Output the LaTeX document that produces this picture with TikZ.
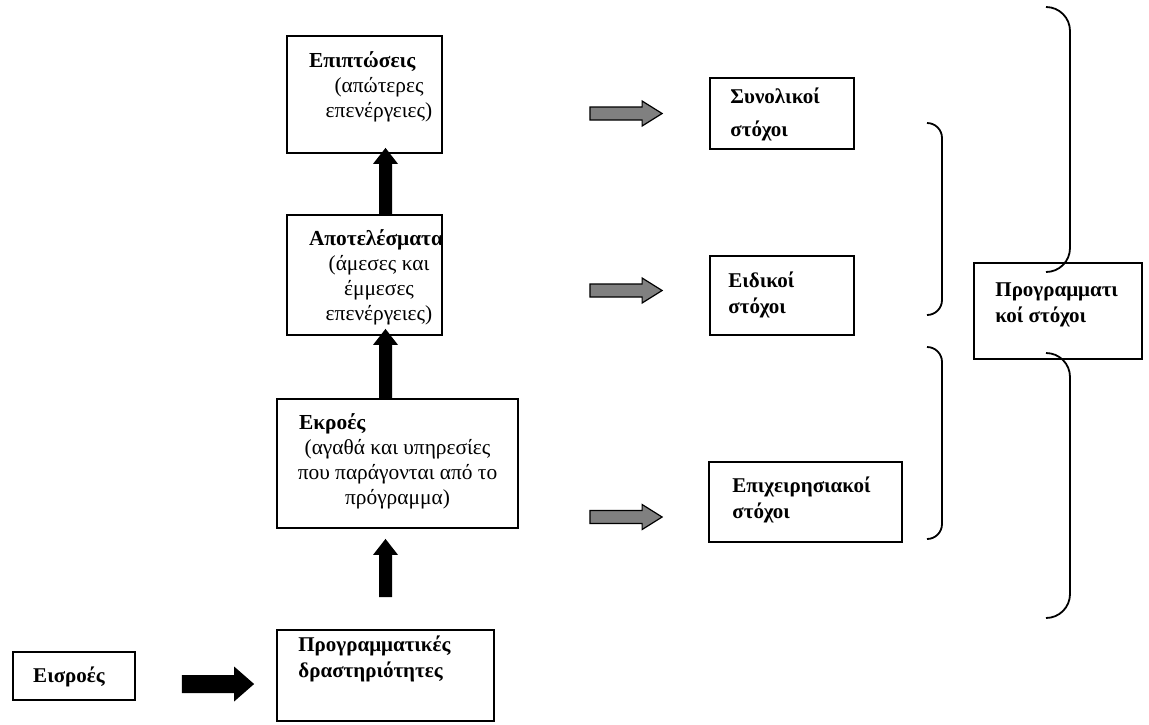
\documentclass[tikz,border=0pt]{standalone}
\usepackage{fontspec}
\setmainfont{Liberation Serif}
\usetikzlibrary{calc}
\definecolor{arrowgray}{RGB}{128,128,128}

\begin{document}
\begin{tikzpicture}
  [
    x=0.5pt, y=-0.5pt,
    font=\fontsize{10.7pt}{12.5pt}\selectfont,
    box/.style =
      {draw, rectangle, line width=0.9pt, inner sep=0pt},
    txt/.style =
      {inner sep=0pt, align=center},
    head/.style =
      {inner sep=0pt, align=left, font=\fontsize{10.5pt}{13pt}\selectfont\bfseries},
    uarrow/.style n args = {3}{to path={($(\tikztostart)+(-#1,0)$)
        -- ($(\tikztotarget)+(-#1,#3)$)
        -- ($(\tikztotarget)+(-#2,#3)$) -- (\tikztotarget)
        -- ($(\tikztotarget)+(#2,#3)$) -- ($(\tikztotarget)+(#1,#3)$)
        -- ($(\tikztostart)+(#1,0)$) -- cycle}},
    rarrow/.style n args = {3}{to path={($(\tikztostart)+(0,-#1)$)
        -- ($(\tikztotarget)+(-#3,-#1)$)
        -- ($(\tikztotarget)+(-#3,-#2)$) -- (\tikztotarget)
        -- ($(\tikztotarget)+(-#3,#2)$) -- ($(\tikztotarget)+(-#3,#1)$)
        -- ($(\tikztostart)+(0,#1)$) -- cycle}},
    varrow/.style =
      {uarrow={6.5}{12.5}{16}, fill=black},
    barrow/.style =
      {rarrow={9}{17.5}{20}, fill=black},
    garrow/.style =
      {rarrow={6.5}{12.5}{20}, draw, line width=0.6pt, fill=arrowgray},
    brace/.style =
      {line width=0.9pt, rounded corners=#1}
  ]

\useasboundingbox (0,0) rectangle (1149,724);

% left column
\node[box, minimum width=77.5pt, minimum height=58.5pt] (epipt) at (364.5,94.5) {};
\node[box, minimum width=77.5pt, minimum height=60pt] (apotel) at (364.5,275) {};
\node[box, minimum width=120.5pt, minimum height=64.5pt] (ekroes) at (397.5,463.5) {};
\node[box, minimum width=108.5pt, minimum height=45.5pt] (drast) at (385.5,675.5) {};
\node[box, minimum width=61pt, minimum height=24pt] (eisr) at (74,676) {};

\node[txt] (epipt-t) at (379,87)
  {\makebox[70pt][l]{\bfseries Επιπτώσεις}\\(απώτερες\\επενέργειες)};
\node[txt] (apotel-t) at (379,277.5)
  {\makebox[70pt][l]{\bfseries Αποτελέσματα}\\(άμεσες και\\έμμεσες\\επενέργειες)};
\node[txt] (ekroes-t) at (397.5,461.5)
  {\makebox[98.5pt][l]{\bfseries Εκροές}\\(αγαθά και υπηρεσίες\\που παράγονται από το\\πρόγραμμα)};
\node[head, anchor=west] (drast-t) at (298,659) {Προγραμματικές\\δραστηριότητες};
\node[head] (eisr-t) at (69,677) {Εισροές};

% goals
\node[box, minimum width=72pt, minimum height=35.5pt] (synol) at (782,113.5) {};
\node[box, minimum width=72pt, minimum height=39.5pt] (eidik) at (782,295.5) {};
\node[box, minimum width=96.5pt, minimum height=40pt] (epixeir) at (805.5,502) {};
\node[box, minimum width=84pt, minimum height=48pt] (progst) at (1058,311) {};

\node[head, anchor=west] (synol-t) at (730,114) {Συνολικοί\\[3.5pt]στόχοι};
\node[head, anchor=west] (eidik-t) at (728,295) {Ειδικοί\\στόχοι};
\node[head, anchor=west] (epixeir-t) at (732,500) {Επιχειρησιακοί\\στόχοι};
\node[head, anchor=west] (progst-t) at (995,304.5) {Προγραμματι\\κοί στόχοι};

% arrow ends
\coordinate (v1s) at (apotel.north -| drast);
\coordinate (v1e) at ($(epipt.south -| drast)+(0,-6)$);
\coordinate (v2s) at (ekroes.north -| drast);
\coordinate (v2e) at ($(apotel.south -| drast)+(0,-7)$);
\coordinate (v3s) at ($(drast.north)+(0,-32)$);
\coordinate (v3e) at ($(ekroes.south -| drast)+(0,10)$);
\coordinate (hs) at ($(eisr.east)+(46,8)$);
\coordinate (he) at ($(drast.west |- eisr.east)+(-22,8)$);
\coordinate (g1s) at ($(epipt.east |- synol.west)+(147,0)$);
\coordinate (g1e) at ($(synol.west)+(-47,0)$);
\coordinate (g2s) at ($(apotel.east |- eidik.west)+(147,-5)$);
\coordinate (g2e) at ($(eidik.west)+(-47,-5)$);
\coordinate (g3s) at ($(ekroes.east |- epixeir.west)+(71,15)$);
\coordinate (g3e) at ($(epixeir.west)+(-46,15)$);

\path[varrow] (v1s) to (v1e);
\path[varrow] (v2s) to (v2e);
\path[varrow] (v3s) to (v3e);
\path[barrow] (hs) to (he);

\path[garrow] (g1s) to (g1e);
\path[garrow] (g2s) to (g2e);
\path[garrow] (g3s) to (g3e);

% brackets
\draw[brace=7.5pt] (927,123) -- (942,123) -- (942,315) -- (927,315);
\draw[brace=7.5pt] (927,347) -- (942,347) -- (942,539) -- (927,539);
\draw[brace=12pt] (1046,7) -- (1070,7) -- (1070,272) -- (1046,272);
\draw[brace=12pt] (1046,353) -- (1070,353) -- (1070,618) -- (1046,618);

\end{tikzpicture}
\end{document}
